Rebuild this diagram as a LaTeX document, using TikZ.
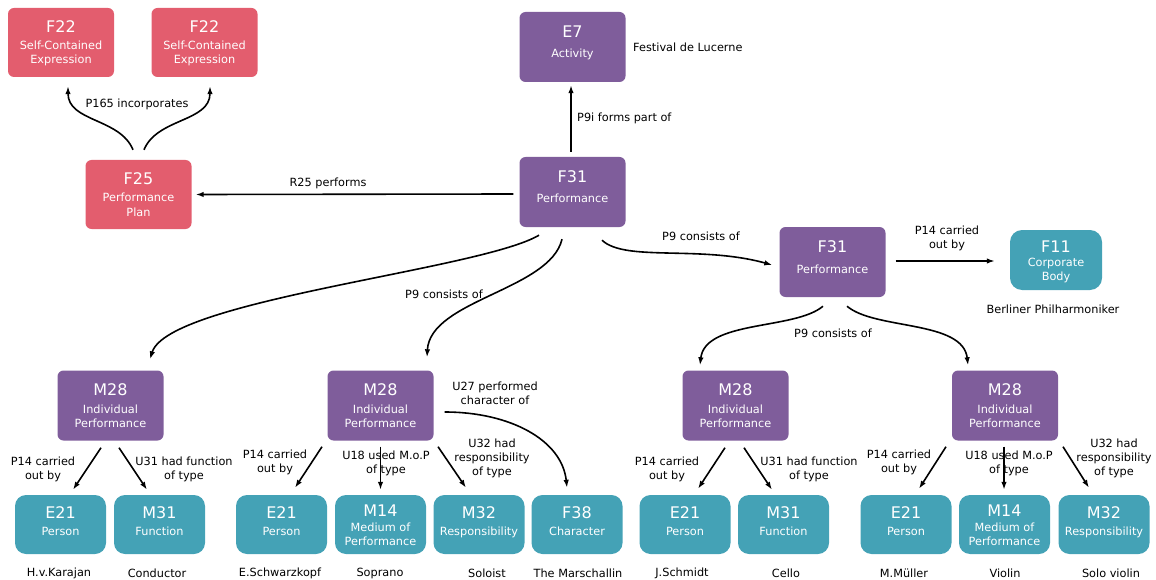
\documentclass[tikz,border=0pt]{standalone}
\usepackage{fontspec}
\setmainfont{DejaVu Sans}
\usetikzlibrary{arrows.meta,calc}
\definecolor{pinkc}{RGB}{227,93,110}
\definecolor{purpc}{RGB}{127,93,155}
\definecolor{tealc}{RGB}{68,162,182}
\newcommand\BigTwo[6]{\node[#2] (#1) at (#3,#4) {};
  \node[codet] (#1-c) at (#3,{#4-15}) {#5};
  \node[subt] (#1-t) at (#3,{#4+7}) {#6};}
\newcommand\BigThree[7]{\node[#2] (#1) at (#3,#4) {};
  \node[codet] (#1-c) at (#3,{#4-15.5}) {#5};
  \node[subt] (#1-t) at (#3,{#4+3.5}) {#6};
  \node[subt] (#1-u) at (#3,{#4+17.5}) {#7};}
\newcommand\TealTwo[5]{\node[tealbox] (#1) at (#2,#3) {};
  \node[codet] (#1-c) at (#2,{#3-11.5}) {#4};
  \node[subt] (#1-t) at (#2,{#3+6.5}) {#5};}
\newcommand\TealThree[7]{\node[#7] (#1) at (#2,#3) {};
  \node[codet] (#1-c) at (#2,{#3-13.5}) {#4};
  \node[subt] (#1-t) at (#2,{#3+2.5}) {#5};
  \node[subt] (#1-u) at (#2,{#3+16.5}) {#6};}
\begin{document}
\begin{tikzpicture}[x=1pt,y=-1pt,
  pinkbox/.style={fill=pinkc,rounded corners=6pt,minimum width=106pt,minimum height=69pt,inner sep=0pt},
  purpbox/.style={fill=purpc,rounded corners=6pt,minimum width=106pt,minimum height=70pt,inner sep=0pt},
  tealbox/.style={fill=tealc,rounded corners=11pt,minimum width=91pt,minimum height=59pt,inner sep=0pt},
  corpbox/.style={fill=tealc,rounded corners=12pt,minimum width=92pt,minimum height=60pt,inner sep=0pt},
  codet/.style={font=\fontsize{16}{16}\selectfont,text=white,inner sep=0pt,text height=11.7pt,text depth=0pt},
  subt/.style={font=\fontsize{11.3}{13}\selectfont,text=white,inner sep=0pt,text height=8pt,text depth=0pt},
  lab/.style={font=\fontsize{11.3}{14}\selectfont,align=center,inner sep=0pt},
  nm/.style={font=\fontsize{11.3}{13}\selectfont,inner sep=0pt},
  arr/.style={line width=1.6pt,-{Latex[length=8pt,width=5.5pt]}}]
\useasboundingbox (0,0) rectangle (1156,580);
% top left
\BigThree{F22a}{pinkbox}{61}{42.5}{F22}{Self-Contained}{Expression}
\BigThree{F22b}{pinkbox}{204.5}{42.5}{F22}{Self-Contained}{Expression}
\BigThree{F25}{pinkbox}{138.5}{194.5}{F25}{Performance}{Plan}
% center
\BigTwo{E7}{purpbox}{572.5}{47}{E7}{Activity}
\BigTwo{F31}{purpbox}{572.5}{192}{F31}{Performance}
\BigTwo{F31b}{purpbox}{832.5}{262}{F31}{Performance}
\TealThree{F11}{1056}{260}{F11}{Corporate}{Body}{corpbox}
% M28 row
\BigThree{M28a}{purpbox}{110.5}{405.5}{M28}{Individual}{Performance}
\BigThree{M28b}{purpbox}{380.5}{405.5}{M28}{Individual}{Performance}
\BigThree{M28c}{purpbox}{735.5}{405.5}{M28}{Individual}{Performance}
\BigThree{M28d}{purpbox}{1005}{405.5}{M28}{Individual}{Performance}
% bottom row
\TealTwo{E21a}{60.5}{524.5}{E21}{Person}
\TealTwo{M31a}{159.5}{524.5}{M31}{Function}
\TealTwo{E21b}{281.5}{524.5}{E21}{Person}
\TealThree{M14b}{380.5}{524.5}{M14}{Medium of}{Performance}{tealbox}
\TealTwo{M32b}{479}{524.5}{M32}{Responsibility}
\TealTwo{F38}{577}{524.5}{F38}{Character}
\TealTwo{E21c}{685}{524.5}{E21}{Person}
\TealTwo{M31c}{783.5}{524.5}{M31}{Function}
\TealTwo{E21d}{906}{524.5}{E21}{Person}
\TealThree{M14d}{1004.5}{524.5}{M14}{Medium of}{Performance}{tealbox}
\TealTwo{M32d}{1104}{524.5}{M32}{Responsibility}
% free texts
\node[nm,anchor=west] (lucerne) at (633,47) {Festival de Lucerne};
\node[nm] (berliner) at (1053,309) {Berliner Philharmoniker};
\node[nm] (n1) at (59,573) {H.v.Karajan};
\node[nm] (n2) at (157,573) {Conductor};
\node[nm] (n3) at (280,573) {E.Schwarzkopf};
\node[nm] (n4) at (380,573) {Soprano};
\node[nm] (n5) at (487,573) {Soloist};
\node[nm] (n6) at (578,573) {The Marschallin};
\node[nm] (n7) at (682,573) {J.Schmidt};
\node[nm] (n8) at (786,573) {Cello};
\node[nm] (n9) at (904,573) {M.Müller};
\node[nm] (n10) at (1005,573) {Violin};
\node[nm] (n11) at (1111,573) {Solo violin};
% connectors top
\draw[arr] ($(F31.west)+(-6,2)$) -- ($(F25.east)+(4,0)$);
\node[lab] (l-r25) at (328,183) {R25 performs};
\draw[arr] ($(F31.north)+(-1.5,-5)$) -- ($(E7.south)+(-1.5,3)$);
\node[lab,anchor=west] (l-p9i) at (577,118) {P9i forms part of};
\draw[arr] ($(F25.north)+(-5.5,-10)$) .. controls (120,118) and (68,122) .. ($(F22a.south)+(7,9)$);
\draw[arr] ($(F25.north)+(5.5,-10)$) .. controls (157,118) and (210,122) .. ($(F22b.south)+(5.5,9)$);
\node[lab] (l-p165) at (137,104) {P165 incorporates};
\draw[arr] ($(F31.south)+(-33.5,8)$) .. controls (480,270) and (168,300) .. ($(M28a.north)+(39.5,-11)$);
\draw[arr] ($(F31.south)+(-10.5,12)$) .. controls (550,290) and (430,300) .. ($(M28b.north)+(46.5,-13)$);
\node[lab] (l-p9a) at (444,294) {P9 consists of};
\draw[arr] ($(F31.south)+(29.5,13)$) .. controls (625,262) and (700,245) .. ($(F31b.west)+(-7,3)$);
\node[lab] (l-p9b) at (701,236) {P9 consists of};
\draw[arr] ($(F31b.east)+(10,-1)$) -- ($(F11.west)+(-15,1)$);
\node[lab] (l-p14f) at (947,238) {P14 carried\\out by};
\draw[arr] ($(F31b.south)+(-9.5,9)$) .. controls (795,330) and (705,320) .. ($(M28c.north)+(-35.5,-5)$);
\draw[arr] ($(F31b.south)+(14.5,9)$) .. controls (875,330) and (963,320) .. ($(M28d.north)+(-37,-5)$);
\node[lab] (l-p9c) at (833,333) {P9 consists of};
% M28a
\draw[arr] ($(M28a.south)+(-9.5,7)$) -- ($(E21a.north)+(12.5,-5)$);
\draw[arr] ($(M28a.south)+(8.5,7)$) -- ($(M31a.north)+(-12.5,-5)$);
\node[lab] (l-a1) at (43,469) {P14 carried\\out by};
\node[lab] (l-a2) at (184,469) {U31 had function\\of type};
% M28b
\draw[arr] ($(M28b.south)+(-58.5,6)$) -- ($(E21b.north)+(13.5,-7)$);
\draw[arr] ($(M28b.south)+(0,6)$) -- ($(M14b.north)+(0,-5)$);
\draw[arr] ($(M28b.south)+(57.5,6)$) -- ($(M32b.north)+(-13,-7)$);
\draw[arr] ($(M28b.east)+(11,6.5)$) .. controls (510,412) and (562,440) .. ($(F38.north)+(-10,-7)$);
\node[lab] (l-b1) at (275,462) {P14 carried\\out by};
\node[lab] (l-b2) at (386,463.5) {U18 used M.o.P\\of type};
\node[lab] (l-b3) at (492,458) {U32 had\\responsibility\\of type};
\node[lab] (l-b4) at (495,393) {U27 performed\\character of};
% M28c
\draw[arr] ($(M28c.south)+(-10.5,7)$) -- ($(E21c.north)+(13,-6)$);
\draw[arr] ($(M28c.south)+(8.5,7)$) -- ($(M31c.north)+(-11.5,-5)$);
\node[lab] (l-c1) at (667,469) {P14 carried\\out by};
\node[lab] (l-c2) at (809,469) {U31 had function\\of type};
% M28d
\draw[arr] ($(M28d.south)+(-59,6)$) -- ($(E21d.north)+(13,-6)$);
\draw[arr] ($(M28d.south)+(-1,6)$) -- ($(M14d.north)+(-0.5,-5)$);
\draw[arr] ($(M28d.south)+(58,6)$) -- ($(M32d.north)+(-15,-7)$);
\node[lab] (l-d1) at (899,462) {P14 carried\\out by};
\node[lab] (l-d2) at (1009,463.5) {U18 used M.o.P\\of type};
\node[lab] (l-d3) at (1114,458) {U32 had\\responsibility\\of type};
\end{tikzpicture}
\end{document}
